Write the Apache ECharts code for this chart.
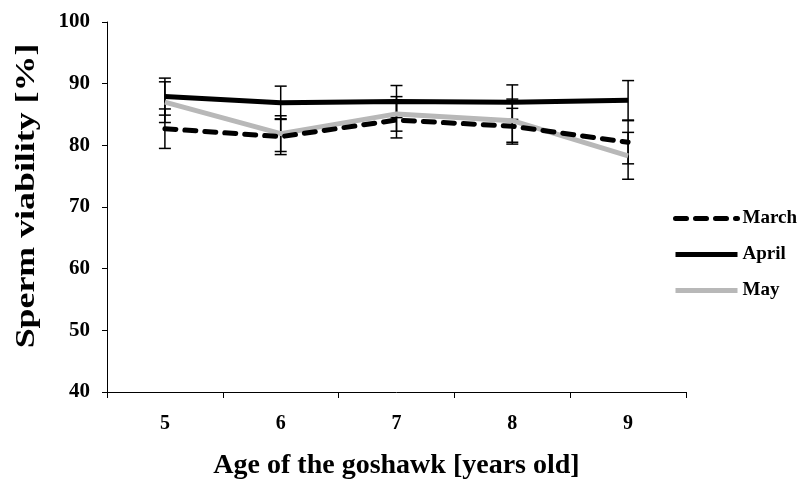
<!DOCTYPE html>
<html>
<head>
<meta charset="utf-8">
<script src="https://cdn.jsdelivr.net/npm/echarts@6/dist/echarts.min.js"></script>
<style>html,body{margin:0;padding:0;background:#fff}#c{width:799px;height:485px}</style>
</head>
<body>
<div id="c"></div>
<script>
var ages = ['5', '6', '7', '8', '9'];
var march = [82.7, 81.4, 84.1, 83.1, 80.5];
var april = [87.9, 86.9, 87.1, 87.0, 87.3];
var may = [87.0, 81.9, 85.1, 84.0, 78.3];
var marchErr = [3.2, 2.9, 2.9, 2.9, 3.5];
var aprilErr = [3.0, 2.7, 2.6, 2.8, 3.2];
var mayErr = [3.3, 2.9, 2.8, 3.5, 3.8];
var xTitle = 'Age of the goshawk [years old]';
var yTitle = 'Sperm viability [%]';

var FONT = 'Liberation Serif';

function errData(vals, errs) {
  return vals.map(function (v, i) { return [i, v - errs[i], v + errs[i]]; });
}
function errSeries(name, vals, errs) {
  return {
    type: 'custom',
    name: name + ' err',
    z: 1,
    silent: true,
    encode: { x: 0, y: [1, 2] },
    data: errData(vals, errs),
    renderItem: function (params, api) {
      var x = api.value(0);
      var lo = api.coord([x, api.value(1)]);
      var hi = api.coord([x, api.value(2)]);
      var w = 6;
      var st = { stroke: '#000', lineWidth: 1.5 };
      return {
        type: 'group',
        children: [
          { type: 'line', shape: { x1: lo[0], y1: lo[1], x2: hi[0], y2: hi[1] }, style: st },
          { type: 'line', shape: { x1: lo[0] - w, y1: lo[1], x2: lo[0] + w, y2: lo[1] }, style: st },
          { type: 'line', shape: { x1: hi[0] - w, y1: hi[1], x2: hi[0] + w, y2: hi[1] }, style: st }
        ]
      };
    }
  };
}

var chart = echarts.init(document.getElementById('c'));
chart.setOption({
  animation: false,
  backgroundColor: '#fff',
  grid: { left: 107, right: 113, top: 22, bottom: 78, containLabel: false },
  graphic: [{
    type: 'text',
    x: 27,
    y: 196,
    rotation: Math.PI / 2,
    scaleX: 1.28,
    style: {
      text: yTitle,
      font: 'bold 28px "Liberation Serif"',
      fill: '#000',
      textAlign: 'center',
      textVerticalAlign: 'middle'
    }
  }],
  legend: {
    orient: 'vertical',
    left: 668,
    top: 204,
    itemWidth: 62,
    itemHeight: 14,
    itemGap: 17,
    data: ['March', 'April', 'May'],
    itemStyle: { opacity: 0 },
    lineStyle: { width: 5 },
    textStyle: { fontFamily: FONT, fontWeight: 'bold', fontSize: 19, color: '#000' }
  },
  xAxis: {
    type: 'category',
    data: ages,
    boundaryGap: true,
    name: xTitle,
    nameLocation: 'middle',
    nameGap: 60,
    nameTextStyle: { fontFamily: FONT, fontWeight: 'bold', fontSize: 28, color: '#000' },
    axisLine: { lineStyle: { color: '#000', width: 1 } },
    axisTick: { show: true, alignWithLabel: false, length: 6, lineStyle: { color: '#000' } },
    axisLabel: { fontFamily: FONT, fontWeight: 'bold', fontSize: 20, color: '#000', margin: 22 },
    splitLine: { show: false }
  },
  yAxis: {
    type: 'value',
    min: 40,
    max: 100,
    interval: 10,
    axisLine: { show: true, lineStyle: { color: '#000', width: 1 } },
    axisTick: { show: true, length: 5, lineStyle: { color: '#000' } },
    axisLabel: { fontFamily: FONT, fontWeight: 'bold', fontSize: 21, color: '#000', margin: 17 },
    splitLine: { show: false }
  },
  series: [
    errSeries('March', march, marchErr),
    errSeries('April', april, aprilErr),
    errSeries('May', may, mayErr),
    {
      name: 'March', type: 'line', data: march, symbol: 'none', z: 3,
      lineStyle: { color: '#000', width: 5, type: [11, 9], cap: 'round' },
      itemStyle: { color: '#000' }
    },
    {
      name: 'April', type: 'line', data: april, symbol: 'none', z: 3,
      lineStyle: { color: '#000', width: 5 },
      itemStyle: { color: '#000' }
    },
    {
      name: 'May', type: 'line', data: may, symbol: 'none', z: 2,
      lineStyle: { color: '#b8b8b8', width: 5 },
      itemStyle: { color: '#b8b8b8' }
    }
  ]
});
</script>
</body>
</html>
